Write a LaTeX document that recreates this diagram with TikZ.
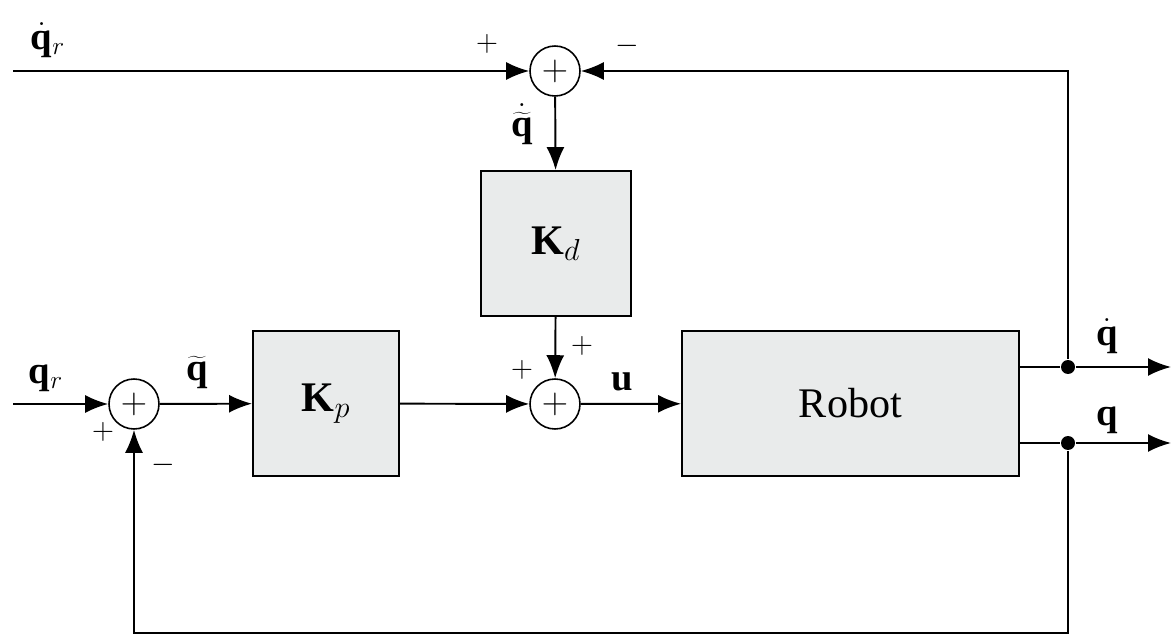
\documentclass[tikz,border=0pt]{standalone}
\usepackage{fontspec}
\setmainfont{Liberation Serif}
\usetikzlibrary{positioning,arrows.meta}
\definecolor{blockfill}{RGB}{233,235,235}

\begin{document}
\begin{tikzpicture}[
    x=0.02cm, y=-0.02cm,
    >={Latex[length=0.46cm,width=0.36cm]},
    line width=1.1pt,
    block/.style={draw, fill=blockfill, minimum height=2.9cm, font=\fontsize{24}{28}\selectfont},
    sumnode/.style={draw, circle, minimum size=1cm, inner sep=0pt, line width=0.9pt, font=\fontsize{22}{26}\selectfont},
    sig/.style={inner sep=0pt, font=\fontsize{22}{26}\selectfont},
    sgn/.style={inner sep=0pt, font=\fontsize{19}{22}\selectfont},
    joint/.style={circle, fill, inner sep=0pt, minimum size=0.28cm},
]
\useasboundingbox (0,0) rectangle (1171,635);
% blocks
\node[block, minimum width=2.92cm] (Kp) at (326,403.5) {$\mathbf{K}_p$};
\node[block, minimum width=3cm] (Kd) at (556,243.5) {$\mathbf{K}_d$};
\node[block, minimum width=6.74cm] (Robot) at (850.5,403.5) {Robot};
% summing junctions
\node[sumnode] (stop) at (555,71) {$+$};
\node[sumnode] (sleft) at (134,404) {$+$};
\node[sumnode] (smid) at (555,404) {$+$};
% branch points and free ends
\node[joint] (dqd) at (1068,367) {};
\node[joint] (dq) at (1068,443) {};
\coordinate (qrdin) at (13,71);
\coordinate (qrin) at (13,404);
\coordinate (qdout) at (1171,367);
\coordinate (qout) at (1171,443);
\coordinate (fbcorner) at (1068,633);
% signals
\draw[->] (qrdin) -- (stop);
\draw[->] (dqd) |- (stop);
\draw[->] (stop) -- (Kd);
\draw[->] (Kd) -- (smid);
\draw[->] (qrin) -- (sleft);
\draw[->] (sleft) -- (Kp);
\draw[->] (Kp) -- (smid);
\draw[->] (smid) -- (Robot);
\draw (Robot.east |- dqd) -- (dqd);
\draw[->] (dqd) -- (qdout);
\draw (Robot.east |- dq) -- (dq);
\draw[->] (dq) -- (qout);
\draw[->] (dq) -- (fbcorner) -| (sleft);
% labels
\node[sig] (lqrd) at (48,40) {$\dot{\mathbf{q}}_r$};
\node[sig] (lqr) at (46,378) {$\mathbf{q}_r$};
\node[sig] (lqt) at (197,373) {$\widetilde{\mathbf{q}}$};
\node[sig] (lqtd) at (522,124) {$\dot{\widetilde{\mathbf{q}}}$};
\node[sig] (lu) at (622,382) {$\mathbf{u}$};
\node[sig] (lqd) at (1107,336) {$\dot{\mathbf{q}}$};
\node[sig] (lq) at (1107,420) {$\mathbf{q}$};
\node[sgn] (ptop) at (487,44) {$+$};
\node[sgn] (mtop) at (627,46) {$-$};
\node[sgn] (pleft) at (103,432) {$+$};
\node[sgn] (mleft) at (163,465) {$-$};
\node[sgn] (pmid1) at (522,370) {$+$};
\node[sgn] (pmid2) at (582,346) {$+$};
\end{tikzpicture}
\end{document}
